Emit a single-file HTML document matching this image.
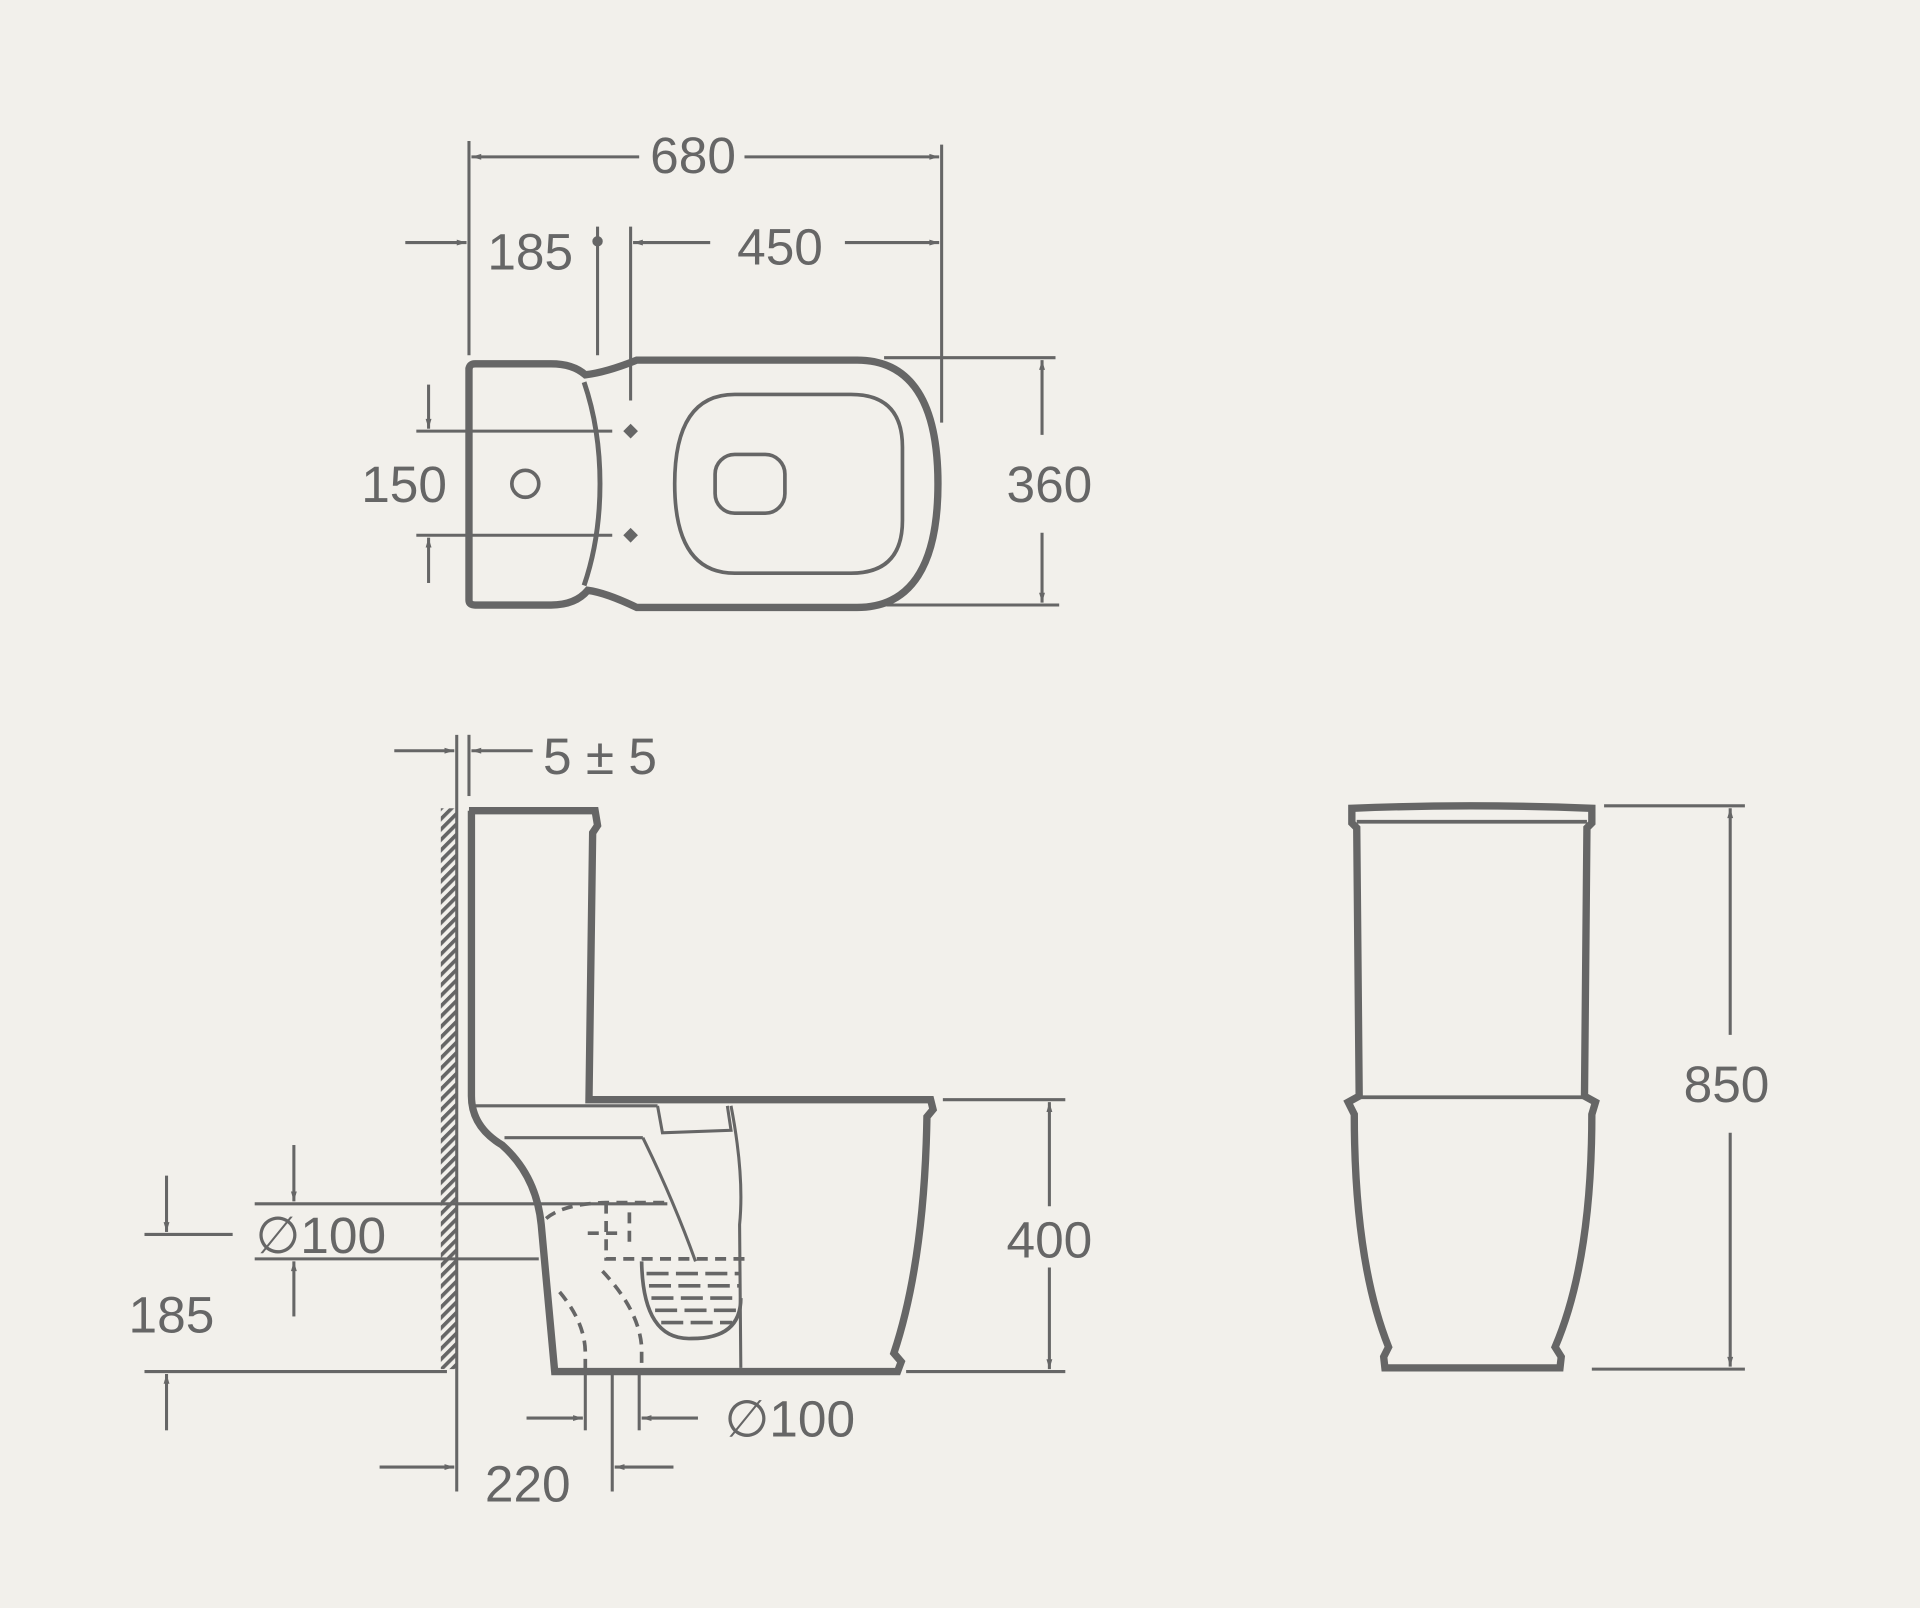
<!DOCTYPE html>
<html><head><meta charset="utf-8"><style>
html,body{margin:0;padding:0;background:#f2f0eb;}
svg{display:block}
text{font-family:"Liberation Sans",sans-serif;fill:#666;font-size:42px;text-anchor:middle}
</style></head><body>
<svg width="1920" height="1608" viewBox="0 0 1568 1313" xmlns="http://www.w3.org/2000/svg">
<defs>
<marker id="a" viewBox="0 0 10 10" refX="10" refY="5" markerWidth="10" markerHeight="8" orient="auto-start-reverse" markerUnits="userSpaceOnUse"><path d="M0,2 L10,5 L0,8 z" fill="#666"/></marker>
<pattern id="h" width="6" height="6" patternUnits="userSpaceOnUse" patternTransform="rotate(-45)"><rect width="6" height="3" fill="#666"/></pattern>
</defs>
<rect width="1568" height="1313" fill="#f2f0eb"/>
<g stroke="#666" fill="none" stroke-width="2.5">
<!-- TOP VIEW dims -->
<line x1="383" y1="115" x2="383" y2="290"/>
<line x1="769" y1="118" x2="769" y2="345"/>
<line x1="522" y1="128" x2="385" y2="128" marker-end="url(#a)"/>
<line x1="608" y1="128" x2="767" y2="128" marker-end="url(#a)"/>
<line x1="331" y1="198" x2="381" y2="198" marker-end="url(#a)"/>
<line x1="488" y1="185" x2="488" y2="290"/>
<circle cx="488" cy="197" r="3" fill="#666"/>
<line x1="515" y1="185" x2="515" y2="327"/>
<line x1="580" y1="198" x2="517" y2="198" marker-end="url(#a)"/>
<line x1="690" y1="198" x2="767" y2="198" marker-end="url(#a)"/>
<line x1="722" y1="292" x2="862" y2="292"/>
<line x1="724" y1="494" x2="865" y2="494"/>
<line x1="851" y1="355" x2="851" y2="294" marker-end="url(#a)"/>
<line x1="851" y1="435" x2="851" y2="492" marker-end="url(#a)"/>
<line x1="340" y1="352" x2="500" y2="352"/>
<line x1="340" y1="437" x2="500" y2="437"/>
<line x1="350" y1="314" x2="350" y2="350" marker-end="url(#a)"/>
<line x1="350" y1="476" x2="350" y2="439" marker-end="url(#a)"/>
<!-- top view body -->
<path stroke-width="6" d="M383,300 L383,490 Q383,494 388,494 L450,494 Q470,494 480,482 Q495,484 520,496 L700,496 C745,496 766,460 766,395 C766,330 745,294 700,294 L520,294 Q495,304 478,306 Q468,297 450,297 L388,297 Q383,297 383,302"/>
<path stroke-width="4" d="M477,312 Q490,350 490,395 Q490,440 477,478"/>
<path stroke-width="3" d="M600,322 L695,322 Q737,322 737,365 L737,425 Q737,468 695,468 L600,468 Q551,468 551,395 Q551,322 600,322 Z"/>
<rect x="584" y="371" width="57" height="48" rx="16" stroke-width="3"/>
<circle cx="429" cy="395" r="11" stroke-width="3"/>
<path d="M515,346 l6,6 l-6,6 l-6,-6 z M515,431 l6,6 l-6,6 l-6,-6 z" fill="#666" stroke="none"/>

<!-- SIDE VIEW -->
<rect x="360" y="660" width="12" height="458" fill="url(#h)" stroke="none"/>
<line x1="373" y1="600" x2="373" y2="1218"/>
<line x1="383" y1="600" x2="383" y2="650"/>
<line x1="322" y1="613" x2="371" y2="613" marker-end="url(#a)"/>
<line x1="435" y1="613" x2="385" y2="613" marker-end="url(#a)"/>
<path stroke-width="6" d="M383,662 L486,662 L488,674 L484,680 L481,898 L760,898 L762,906 L757,912 Q755,1030 730,1105 L736,1112 L733,1120 L453,1120 L442,1000 Q438,960 410,935 Q385,920 385,895 L385,662"/>
<line x1="388" y1="903" x2="537" y2="903"/>
<line x1="412" y1="929" x2="525" y2="929"/>
<path d="M537,903 L541,925 L597,923 L594,903"/>
<path d="M525,929 Q550,980 568,1030"/>
<path d="M597,903 Q608,960 604,1000 L605,1117"/>
<line x1="208" y1="983" x2="545" y2="983"/>
<line x1="208" y1="1028" x2="440" y2="1028"/>
<path stroke-dasharray="9,6" stroke-width="3" d="M446,995 Q460,983 495,982 L550,982"/>
<path stroke-dasharray="9,6" stroke-width="3" d="M495,982 L495,1028 L520,1028 L610,1028"/>
<path stroke-dasharray="9,6" stroke-width="3" d="M514,990 L514,1020 M480,1007 L505,1007"/>
<path stroke-dasharray="9,6" stroke-width="3" d="M457,1055 Q478,1080 478,1105 L478,1120 M492,1038 Q522,1070 524,1100 L524,1120"/>
<path stroke-width="3" d="M524,1030 Q525,1095 565,1093 Q605,1093 605,1060"/>
<g stroke-width="3" stroke-dasharray="18,6"><line x1="528" y1="1040" x2="605" y2="1040"/><line x1="530" y1="1050" x2="605" y2="1050"/><line x1="532" y1="1060" x2="605" y2="1060"/><line x1="535" y1="1070" x2="603" y2="1070"/><line x1="540" y1="1080" x2="598" y2="1080"/></g>
<!-- side dims -->
<line x1="770" y1="898" x2="870" y2="898"/>
<line x1="740" y1="1120" x2="870" y2="1120"/>
<line x1="857" y1="985" x2="857" y2="900" marker-end="url(#a)"/>
<line x1="857" y1="1035" x2="857" y2="1118" marker-end="url(#a)"/>
<line x1="240" y1="935" x2="240" y2="981" marker-end="url(#a)"/>
<line x1="240" y1="1075" x2="240" y2="1030" marker-end="url(#a)"/>
<line x1="118" y1="1008" x2="190" y2="1008"/>
<line x1="136" y1="960" x2="136" y2="1006" marker-end="url(#a)"/>
<line x1="118" y1="1120" x2="365" y2="1120"/>
<line x1="136" y1="1168" x2="136" y2="1122" marker-end="url(#a)"/>
<line x1="478" y1="1122" x2="478" y2="1168"/>
<line x1="522" y1="1122" x2="522" y2="1168"/>
<line x1="500" y1="1122" x2="500" y2="1218"/>
<line x1="430" y1="1158" x2="476" y2="1158" marker-end="url(#a)"/>
<line x1="570" y1="1158" x2="524" y2="1158" marker-end="url(#a)"/>
<line x1="310" y1="1198" x2="371" y2="1198" marker-end="url(#a)"/>
<line x1="550" y1="1198" x2="502" y2="1198" marker-end="url(#a)"/>

<!-- FRONT VIEW -->
<path stroke-width="6" d="M1104,660 Q1200,656 1300,660 L1300,672 L1296,676 L1294,895 L1303,900 L1300,910 Q1300,1030 1270,1100 L1275,1108 L1274,1117 L1131,1117 L1130,1108 L1134,1100 Q1106,1030 1106,910 L1101,900 L1110,895 L1108,676 L1104,672 Z"/>
<line x1="1108" y1="671" x2="1296" y2="671" stroke-width="3"/>
<line x1="1110" y1="896" x2="1294" y2="896" stroke-width="3"/>
<line x1="1310" y1="658" x2="1425" y2="658"/>
<line x1="1300" y1="1118" x2="1425" y2="1118"/>
<line x1="1413" y1="845" x2="1413" y2="660" marker-end="url(#a)"/>
<line x1="1413" y1="925" x2="1413" y2="1116" marker-end="url(#a)"/>
</g>
<text x="566" y="141">680</text>
<text x="433" y="220">185</text>
<text x="637" y="216">450</text>
<text x="857" y="410">360</text>
<text x="330" y="410">150</text>
<text x="490" y="632">5 ± 5</text>
<text x="262" y="1023">∅100</text>
<text x="140" y="1088">185</text>
<text x="857" y="1027">400</text>
<text x="645" y="1173">∅100</text>
<text x="431" y="1226">220</text>
<text x="1410" y="900">850</text>
</svg>
</body></html>
